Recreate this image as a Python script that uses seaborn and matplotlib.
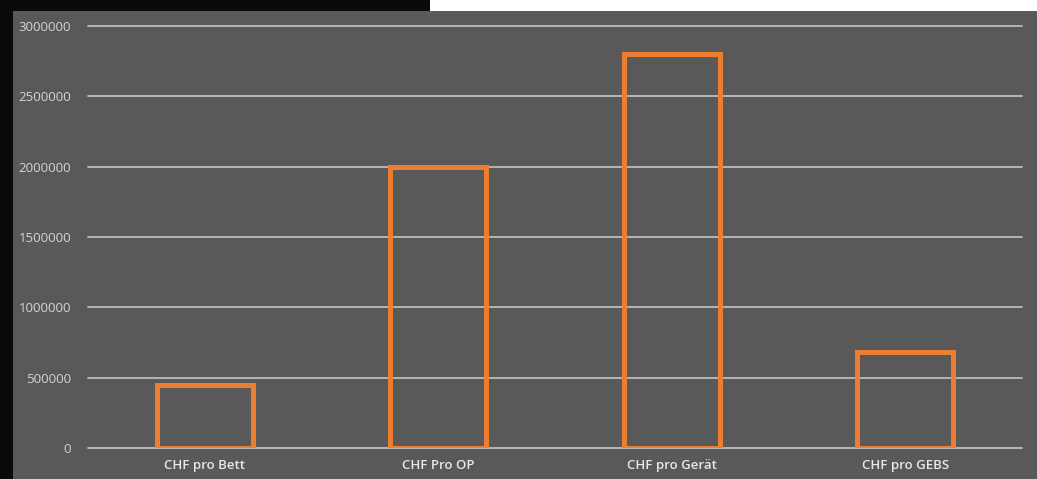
import matplotlib
matplotlib.use("Agg")
import matplotlib.pyplot as plt
import seaborn as sns
import pandas as pd
from matplotlib.patches import Rectangle

categories = ["CHF pro Bett", "CHF Pro OP", "CHF pro Gerät", "CHF pro GEBS"]
values = [450000, 2000000, 2800000, 680000]
yticks = [0, 500000, 1000000, 1500000, 2000000, 2500000, 3000000]

sns.set_theme(style="white")
plt.rcParams['font.family'] = ['Open Sans', 'DejaVu Sans']

W, H = 1037, 479
fig = plt.figure(figsize=(W / 100, H / 100), dpi=100)
fig.patch.set_facecolor("#0a0a0a")
# background panels
fig.patches.append(Rectangle((13 / W, 0), 1 - 13 / W, 1 - 11 / H, transform=fig.transFigure,
                             facecolor="#595959", edgecolor="none", zorder=-5))
fig.patches.append(Rectangle((430 / W, 1 - 11 / H), 1 - 430 / W, 11 / H, transform=fig.transFigure,
                             facecolor="white", edgecolor="none", zorder=-5))

ax = fig.add_axes([88 / W, 1 - 448 / H, (1022 - 88) / W, (448 - 26) / H])
ax.set_facecolor("none")

df = pd.DataFrame({"cat": categories, "val": values})
sns.barplot(data=df, x="cat", y="val", ax=ax, fill=False, color="#ED7D31",
            linewidth=3.6, width=0.41, errorbar=None, zorder=3)
for p in ax.patches:
    p.set_edgecolor("#ED7D31")
    p.set_joinstyle("miter")

ax.set_xlim(-0.5, 3.5)
ax.set_ylim(0, 3000000)
ax.set_yticks(yticks)
ax.set_yticklabels([str(v) for v in yticks], color="#d4d4d4", fontsize=9.5)
ax.set_xticks(range(len(categories)))
ax.set_xticklabels(categories, color="#e8e8e8", fontsize=9.5, fontweight="semibold")
ax.tick_params(axis="y", length=0, pad=12)
ax.tick_params(axis="x", length=0, pad=8)
ax.set_xlabel("")
ax.set_ylabel("")
for y in yticks:
    ax.axhline(y, color="#bdbdbd", linewidth=1.3, zorder=1, clip_on=False)
for s in ax.spines.values():
    s.set_visible(False)

fig.savefig("out.png", dpi=100, facecolor=fig.get_facecolor())
